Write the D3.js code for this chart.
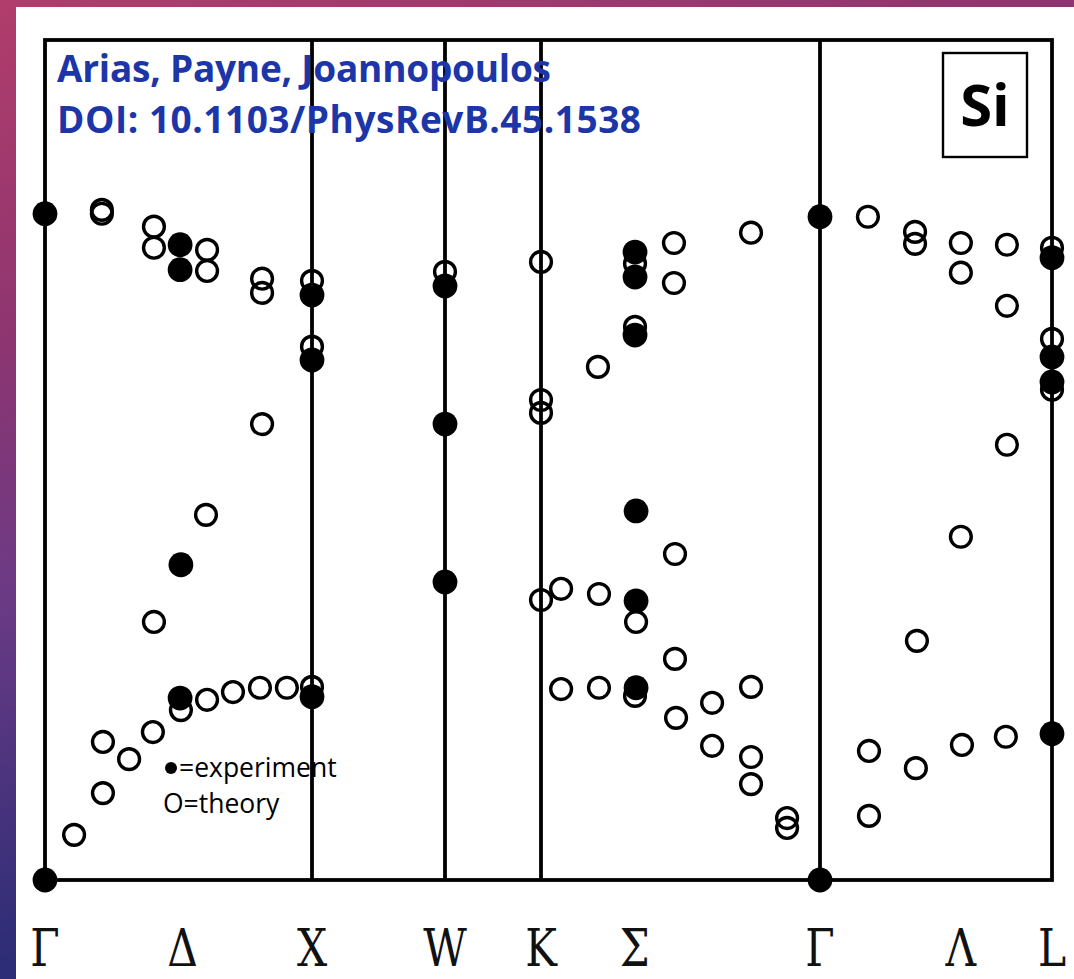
<!DOCTYPE html>
<html>
<head>
<meta charset="utf-8">
<script src="https://cdn.jsdelivr.net/npm/d3@7/dist/d3.min.js"></script>
<style>
  html, body { margin: 0; padding: 0; background: #fff; }
  svg { display: block; }
</style>
</head>
<body>
<svg id="chart" width="1074" height="979"></svg>
<script>
// Phonon dispersion of Si along Γ–X–W–K–Γ–L (frequencies in THz)

// High-symmetry points and their path coordinates (units of 2π/a)
const symLabels = ["Γ", "X", "W", "K", "Γ", "L"];
const symPos = [0, 1, 1.5, 1.8536, 2.9142, 3.7802];

// Labels along the bottom edge (points and directions)
const axisLabels = ["Γ", "Δ", "X", "W", "K", "Σ", "Γ", "Λ", "L"];
const axisPos = [0, 0.515, 1, 1.5, 1.8536, 2.21, 2.9142, 3.44, 3.7802];

// Measured frequencies (filled markers): [path coordinate, THz]
const experiment = [
  [0, 15.49], [0.506, 14.77], [0.506, 14.19], [1, 13.60], [1, 12.09],
  [0.509, 7.33], [0.506, 4.23], [1, 4.26], [0, 0],
  [1.5, 13.81], [1.5, 10.60], [1.5, 6.93],
  [2.211, 14.60], [2.211, 14.02], [2.211, 12.67], [2.215, 8.58],
  [2.215, 6.49], [2.215, 4.47],
  [2.9142, 15.42], [2.9142, 0],
  [3.7802, 14.47], [3.7802, 12.16], [3.7802, 11.58], [3.7802, 3.40]
];

// Calculated frequencies (open markers): [path coordinate, THz]
const theory = [
  [0.213, 15.58], [0.213, 15.49], [0.408, 15.19], [0.408, 14.70],
  [0.607, 14.65], [0.607, 14.16], [0.813, 13.98], [0.813, 13.65],
  [1, 13.93], [1, 12.40], [0.813, 10.60], [0.603, 8.49], [0.408, 6.00],
  [0.509, 3.95], [0.607, 4.19], [0.704, 4.37], [0.805, 4.47], [0.906, 4.47],
  [1, 4.49], [0.404, 3.44], [0.217, 3.21], [0.315, 2.81], [0.217, 2.02],
  [0.109, 1.05],
  [1.5, 14.14],
  [1.8536, 14.37], [1.8536, 11.16], [1.8536, 10.86], [1.8536, 6.51],
  [2.211, 14.33], [2.359, 14.81], [2.359, 13.88], [2.652, 15.05],
  [2.211, 12.86], [2.070, 11.93], [2.363, 7.58], [1.930, 6.77],
  [2.074, 6.65], [2.215, 6.00], [2.363, 5.14], [1.930, 4.44],
  [2.074, 4.47], [2.211, 4.28], [2.367, 3.77], [2.504, 4.12],
  [2.652, 4.49], [2.504, 3.12], [2.652, 2.86], [2.652, 2.23],
  [2.789, 1.44], [2.789, 1.21],
  [3.093, 15.42], [3.269, 15.07], [3.269, 14.79], [3.440, 14.81],
  [3.612, 14.77], [3.440, 14.12], [3.612, 13.35], [3.7802, 14.70],
  [3.7802, 12.58], [3.7802, 11.40], [3.612, 10.12], [3.440, 7.98],
  [3.276, 5.56], [3.608, 3.33], [3.444, 3.14], [3.097, 3.00],
  [3.272, 2.60], [3.097, 1.49]
];

const titleLines = ["Arias, Payne, Joannopoulos", "DOI: 10.1103/PhysRevB.45.1538"];
const legendLabels = ["=experiment", "O=theory"];
const elementLabel = "Si";

const svg = d3.select("#chart");

// Slide background
const defs = svg.append("defs");
const bg = defs.append("linearGradient").attr("id", "bg")
  .attr("x1", 0).attr("y1", 0).attr("x2", 0.35).attr("y2", 1);
[["0", "#b13d6b"], ["0.3", "#8f3570"], ["0.55", "#6a3a85"], ["0.88", "#2c2d76"], ["1", "#23296e"]]
  .forEach(([o, c]) => bg.append("stop").attr("offset", o).attr("stop-color", c));
svg.append("rect").attr("width", 1074).attr("height", 979).attr("fill", "url(#bg)");
svg.append("rect").attr("x", 16).attr("y", 7).attr("width", 1058).attr("height", 972).attr("fill", "#fff");

// Scales
const x = d3.scaleLinear().domain(symPos).range([45, 312, 445, 541, 820, 1052]);
const y = d3.scaleLinear().domain([0, 19.53]).range([880, 40]);

const g = svg.append("g");

// Frame and vertical lines at the high-symmetry points
g.append("rect")
  .attr("x", x(symPos[0])).attr("y", y(19.53))
  .attr("width", x(symPos[symPos.length - 1]) - x(symPos[0]))
  .attr("height", y(0) - y(19.53))
  .attr("fill", "none").attr("stroke", "#000").attr("stroke-width", 3.8);

g.selectAll("line.sym")
  .data(symPos.slice(1, -1))
  .join("line").attr("class", "sym")
  .attr("x1", d => x(d)).attr("x2", d => x(d))
  .attr("y1", y(19.53)).attr("y2", y(0))
  .attr("stroke", "#000").attr("stroke-width", 3.8);

// Open markers first, filled markers on top
g.selectAll("circle.th")
  .data(theory)
  .join("circle").attr("class", "th")
  .attr("cx", d => x(d[0])).attr("cy", d => y(d[1]))
  .attr("r", 10.4)
  .attr("fill", "none").attr("stroke", "#000").attr("stroke-width", 3.4);

g.selectAll("circle.ex")
  .data(experiment)
  .join("circle").attr("class", "ex")
  .attr("cx", d => x(d[0])).attr("cy", d => y(d[1]))
  .attr("r", 12.4)
  .attr("fill", "#000");

// Bottom labels
svg.append("g").selectAll("text")
  .data(axisLabels.map((t, i) => [t, axisPos[i]]))
  .join("text")
  .attr("transform", d => `translate(${x(d[1])},966) scale(0.8,1)`)
  .attr("text-anchor", "middle")
  .attr("font-family", "DejaVu Serif")
  .attr("font-size", 53)
  .attr("fill", "#111")
  .text(d => d[0]);

// Citation
svg.append("g").selectAll("text")
  .data(titleLines)
  .join("text")
  .attr("x", 57).attr("y", (d, i) => 82 + i * 51)
  .attr("font-family", "Open Sans")
  .attr("font-weight", 700)
  .attr("font-size", 37)
  .attr("fill", "#1c36a8")
  .attr("textLength", (d, i) => i === 0 ? 494 : 584)
  .attr("lengthAdjust", "spacing")
  .text(d => d);

// Element box
svg.append("rect").attr("x", 943).attr("y", 53).attr("width", 84).attr("height", 104)
  .attr("fill", "#fff").attr("stroke", "#000").attr("stroke-width", 2.4);
svg.append("text").attr("x", 985).attr("y", 126)
  .attr("text-anchor", "middle")
  .attr("font-family", "Open Sans").attr("font-weight", 700).attr("font-size", 58)
  .attr("fill", "#000").text(elementLabel);

// Legend
const lg = svg.append("g");
lg.append("circle").attr("cx", 171).attr("cy", 768).attr("r", 6).attr("fill", "#000");
lg.selectAll("text")
  .data(legendLabels)
  .join("text")
  .attr("x", (d, i) => i === 0 ? 179 : 163)
  .attr("y", (d, i) => 777 + i * 36)
  .attr("font-family", "Open Sans")
  .attr("font-size", 26.5)
  .attr("fill", "#000")
  .text(d => d);
</script>
</body>
</html>
